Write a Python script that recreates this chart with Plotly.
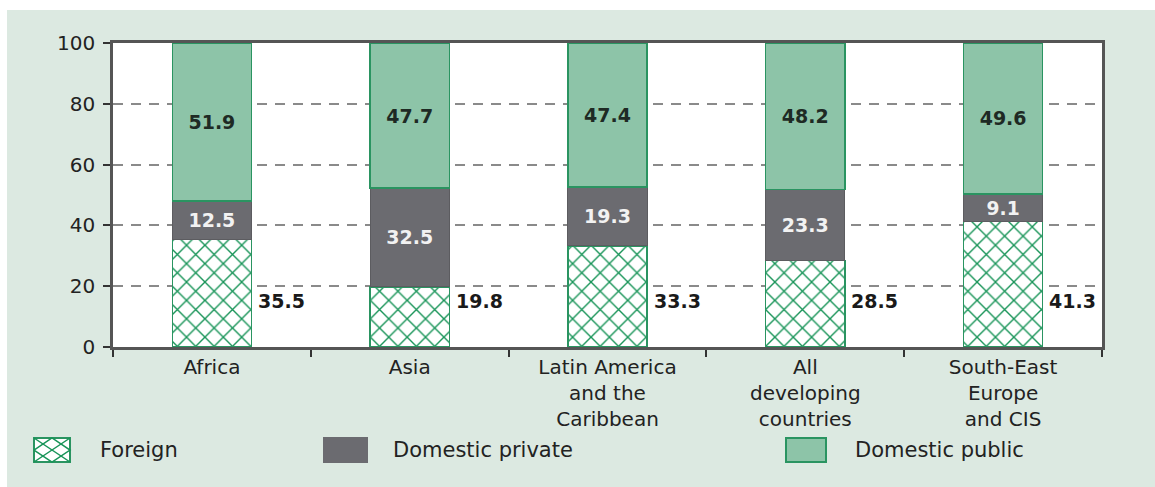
import plotly.graph_objects as go

# Regions (category axis) and the three funding shares, in percent
regions = [
    "Africa",
    "Asia",
    "Latin America<br>and the<br>Caribbean",
    "All<br>developing<br>countries",
    "South-East<br>Europe<br>and CIS",
]
foreign = [35.5, 19.8, 33.3, 28.5, 41.3]
domestic_private = [12.5, 32.5, 19.3, 23.3, 9.1]
domestic_public = [51.9, 47.7, 47.4, 48.2, 49.6]
y_ticks = [0, 20, 40, 60, 80, 100]
series_names = ["Foreign", "Domestic private", "Domestic public"]

FONT = "DejaVu Sans"
GREEN_LINE = "#2a9461"
HATCH = "#189458"
PUBLIC_FILL = "#8dc4a8"
PRIVATE_FILL = "#6b6b70"
PANEL = "#dce9e1"

fig = go.Figure()

fig.add_trace(go.Bar(
    x=regions, y=foreign, name=series_names[0],
    marker=dict(
        color="white",
        line=dict(color=GREEN_LINE, width=1.5),
        pattern=dict(shape="x", fgcolor=HATCH, bgcolor="white",
                     size=13, solidity=0.2, fillmode="replace"),
    ),
    hoverinfo="skip",
))

fig.add_trace(go.Bar(
    x=regions, y=domestic_private, name=series_names[1],
    marker=dict(color=PRIVATE_FILL, line=dict(color="#5c5c60", width=1)),
    text=[f"{v:.1f}" for v in domestic_private],
    textposition="inside", insidetextanchor="middle", textangle=0,
    textfont=dict(family=FONT, size=19, color="#f2f2f2", weight="bold"),
    hoverinfo="skip",
))

fig.add_trace(go.Bar(
    x=regions, y=domestic_public, name=series_names[2],
    marker=dict(color=PUBLIC_FILL, line=dict(color=GREEN_LINE, width=1.5)),
    text=[f"{v:.1f}" for v in domestic_public],
    textposition="inside", insidetextanchor="middle", textangle=0,
    textfont=dict(family=FONT, size=19, color="#1e2a24", weight="bold"),
    hoverinfo="skip",
))

# Foreign shares are written beside each bar
annotations = [
    dict(x=r, y=15, xref="x", yref="y", text=f"{v:.1f}", showarrow=False,
         xanchor="left", yanchor="middle", xshift=44,
         font=dict(family=FONT, size=19, color="#1a1a1a", weight="bold"))
    for r, v in zip(regions, foreign)
]

# Pixel helpers for page furniture (panel border and key)
L, R, T, B = 113, 53, 43, 140
W, H = 1155, 487
pw, ph = W - L - R, H - T - B
def px_x(p):
    return (p - L) / pw
def px_y(p):
    return (H - B - p) / ph

shapes = [
    # white band on the top and left edges of the panel
    dict(type="rect", xref="paper", yref="paper", layer="below",
         x0=px_x(-5), x1=px_x(W + 5), y0=px_y(0) + 0.05, y1=px_y(10),
         fillcolor="white", line=dict(width=0)),
    dict(type="rect", xref="paper", yref="paper", layer="below",
         x0=px_x(-5), x1=px_x(7), y0=px_y(H + 5), y1=px_y(0) + 0.05,
         fillcolor="white", line=dict(width=0)),
]

# Key along the bottom: box + label for each series
key_y0, key_y1 = 438, 462
key_boxes = [(34, 70), (324, 367), (786, 826)]
key_text_x = [98, 391, 853]
key_fills = ["white", PRIVATE_FILL, PUBLIC_FILL]
key_lines = [GREEN_LINE, PRIVATE_FILL, GREEN_LINE]
for (bx0, bx1), fill, lc in zip(key_boxes, key_fills, key_lines):
    shapes.append(dict(type="rect", xref="paper", yref="paper",
                       x0=px_x(bx0), x1=px_x(bx1),
                       y0=px_y(key_y1), y1=px_y(key_y0),
                       fillcolor=fill, line=dict(color=lc, width=2)))

# lattice inside the Foreign key box
fx0, fx1 = key_boxes[0]
fxm = (fx0 + fx1) / 2
ym = (key_y0 + key_y1) / 2
lattice = [
    [(fx0, key_y0), (fx1, key_y1)],
    [(fx0, key_y1), (fx1, key_y0)],
    [(fx0, ym), (fxm, key_y0), (fx1, ym), (fxm, key_y1), (fx0, ym)],
]
for pts in lattice:
    path = "M " + " L ".join(f"{px_x(a):.5f},{px_y(b):.5f}" for a, b in pts)
    shapes.append(dict(type="path", xref="paper", yref="paper", path=path,
                       line=dict(color=HATCH, width=1.5)))

for name, tx in zip(series_names, key_text_x):
    annotations.append(dict(
        x=px_x(tx), y=px_y((key_y0 + key_y1) / 2), xref="paper", yref="paper",
        text=name, showarrow=False, xanchor="left", yanchor="middle",
        font=dict(family=FONT, size=21, color="#222")))

fig.update_layout(
    width=W, height=H,
    margin=dict(l=L, r=R, t=T, b=B),
    paper_bgcolor=PANEL,
    plot_bgcolor="white",
    barmode="stack",
    bargap=0.6,
    showlegend=False,
    annotations=annotations,
    shapes=shapes,
    xaxis=dict(
        showline=True, linecolor="#555", linewidth=2.5, mirror=True,
        ticks="outside", tickson="boundaries", ticklen=7, tickwidth=2,
        tickcolor="#333",
        tickfont=dict(family=FONT, size=20, color="#222"),
        showgrid=False,
    ),
    yaxis=dict(
        range=[0, 100], tickvals=y_ticks,
        showline=True, linecolor="#555", linewidth=2.5, mirror=True,
        ticks="outside", ticklen=7, tickwidth=2, tickcolor="#333",
        tickfont=dict(family=FONT, size=20, color="#222"),
        ticklabelstandoff=4,
        showgrid=True, gridcolor="#8a8a8a", gridwidth=1.5, griddash="10px,8px",
        zeroline=False,
    ),
)

fig.write_html("out.html")
